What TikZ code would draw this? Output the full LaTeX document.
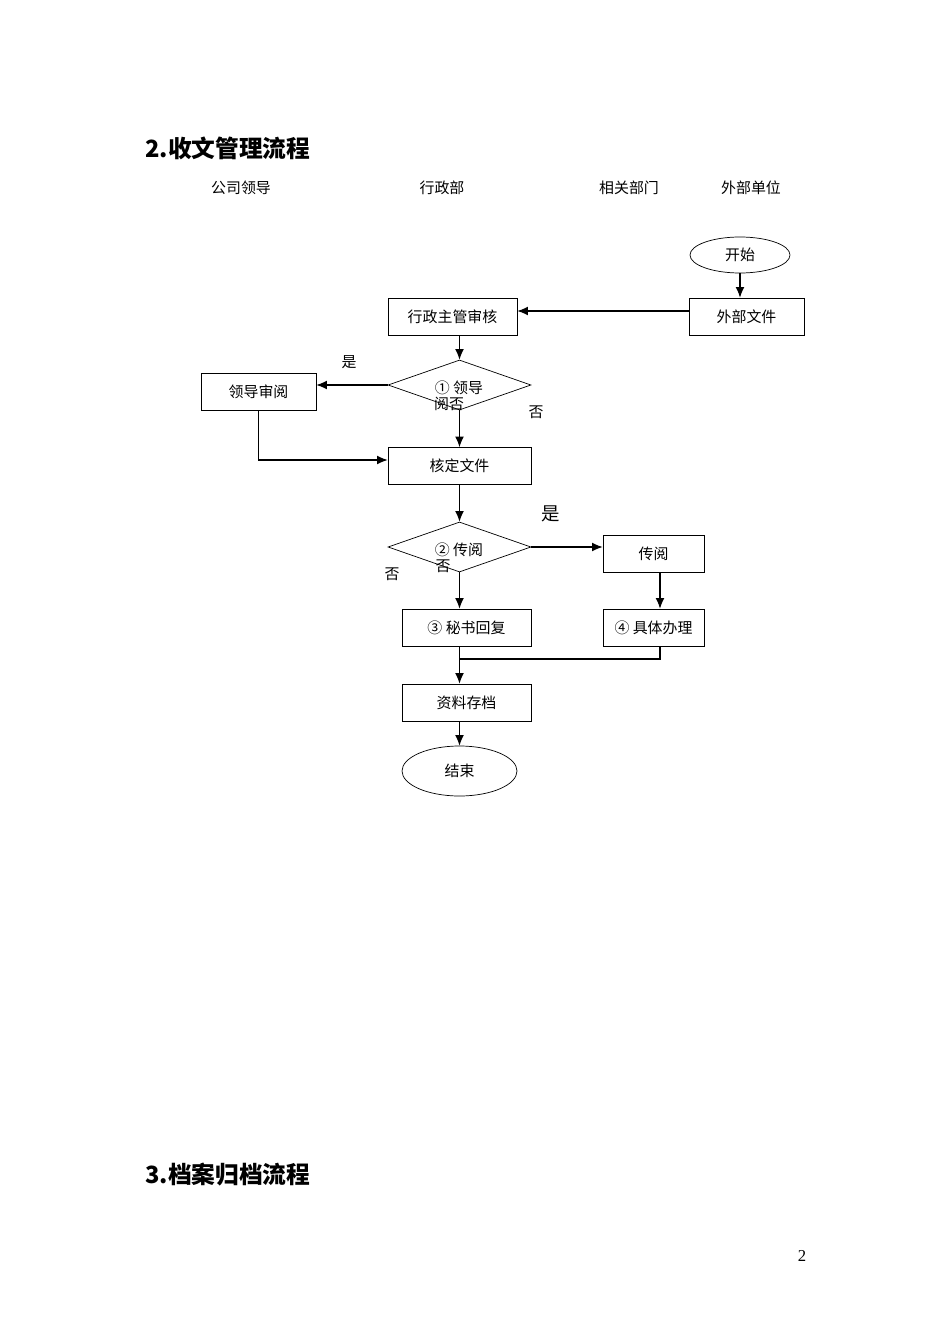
\documentclass[tikz,border=0pt]{standalone}
\usepackage{fontspec}
\setmainfont{Liberation Serif}
\newfontfamily\cjk{Noto Sans CJK SC}
\usetikzlibrary{shapes.geometric,positioning,arrows.meta}
\tikzset{
  box/.style={draw,rectangle,minimum height=37\unitpx,inner sep=0pt,font=\cjk\fontsize{8.5}{10}\selectfont},
  oval/.style={draw,ellipse,inner sep=0pt,font=\cjk\fontsize{8.5}{10}\selectfont},
  dia/.style={draw,diamond,aspect=2.86,minimum width=143\unitpx,minimum height=50\unitpx,inner sep=0pt},
  lbl/.style={font=\cjk\fontsize{8.5}{10}\selectfont,inner sep=0pt},
  arr/.style={-{Latex[length=6pt,width=5pt]},line width=0.6pt},
  ln/.style={line width=0.6pt}
}
\newlength\unitpx
\setlength\unitpx{0.02cm}
\begin{document}
\begin{tikzpicture}[x=0.02cm,y=-0.02cm]
  \useasboundingbox (0,0) rectangle (950,1344);

  \node[anchor=west,inner sep=0pt,font=\cjk\bfseries\fontsize{13.5}{16}\selectfont] (title) at (145,148) {2.收文管理流程};
  \node[lbl] (h1) at (241,188) {公司领导};
  \node[lbl] (h2) at (442,188) {行政部};
  \node[lbl] (h3) at (629,188) {相关部门};
  \node[lbl] (h4) at (751,188) {外部单位};

  \node[oval,minimum width=100\unitpx,minimum height=36\unitpx] (start) at (740,255) {开始};
  \node[box,minimum width=115\unitpx] (ext) at (746.5,316.5) {外部文件};
  \node[box,minimum width=129\unitpx] (check) at (452.5,316.5) {行政主管审核};
  \node[dia] (d1) at (459.5,385) {};
  \node[lbl] (d1a) at (459,388) {① 领导};
  \node[lbl] (d1b) at (449,404) {阅否};
  \node[box,minimum width=115\unitpx] (lead) at (258.5,391.5) {领导审阅};
  \node[box,minimum width=143\unitpx] (fix) at (459.5,466) {核定文件};
  \node[dia] (d2) at (459.5,547) {};
  \node[lbl] (d2a) at (459,550) {② 传阅};
  \node[box,minimum width=101\unitpx] (pass) at (653.5,553.5) {传阅};
  \node[box,minimum width=129\unitpx] (reply) at (466.5,627.5) {③ 秘书回复};
  \node[box,minimum width=101\unitpx] (do) at (653.5,627.5) {④ 具体办理};
  \node[box,minimum width=129\unitpx] (store) at (466.5,702.5) {资料存档};
  \node[oval,minimum width=115\unitpx,minimum height=50\unitpx] (end) at (459.5,771) {结束};

  \node[lbl] (yes1) at (349,362) {是};
  \node[lbl] (no1) at (536,412) {否};
  \node[lbl,font=\cjk\fontsize{10.5}{12}\selectfont] (yes2) at (551,514) {是};
  \node[lbl] (no2) at (392,574) {否};
  \node[lbl] (no3) at (443,566) {否};

  \draw[arr] (start) -- (start|-ext.north);
  \draw[arr] (ext.west|-0,311) -- (check.east|-0,311);
  \draw[arr] (d1.north|-check.south) -- (d1.north);
  \draw[arr] (d1.west) -- (lead.east|-d1.west);
  \draw[arr] (d1.south) -- (fix.north);
  \draw[arr] (lead.south) |- (fix.west|-0,460);
  \draw[arr] (fix.south) -- (d2.north);
  \draw[arr] (d2.east) -- (pass.west|-d2.east);
  \draw[arr] (d2.south) -- (d2.south|-reply.north);
  \draw[arr] (pass.south-|660,0) -- (do.north-|660,0);
  \draw[arr] (d2.south|-reply.south) -- (d2.south|-store.north);
  \draw[ln] (do.south-|660,0) |- (459.5,659);
  \draw[arr] (d2.south|-store.south) -- (end.north);

  \node[anchor=west,inner sep=0pt,font=\cjk\bfseries\fontsize{13.5}{16}\selectfont] (title3) at (145,1175) {3.档案归档流程};
  \node[font=\fontsize{9.5}{11}\selectfont] (page) at (802,1256) {2};
\end{tikzpicture}
\end{document}
